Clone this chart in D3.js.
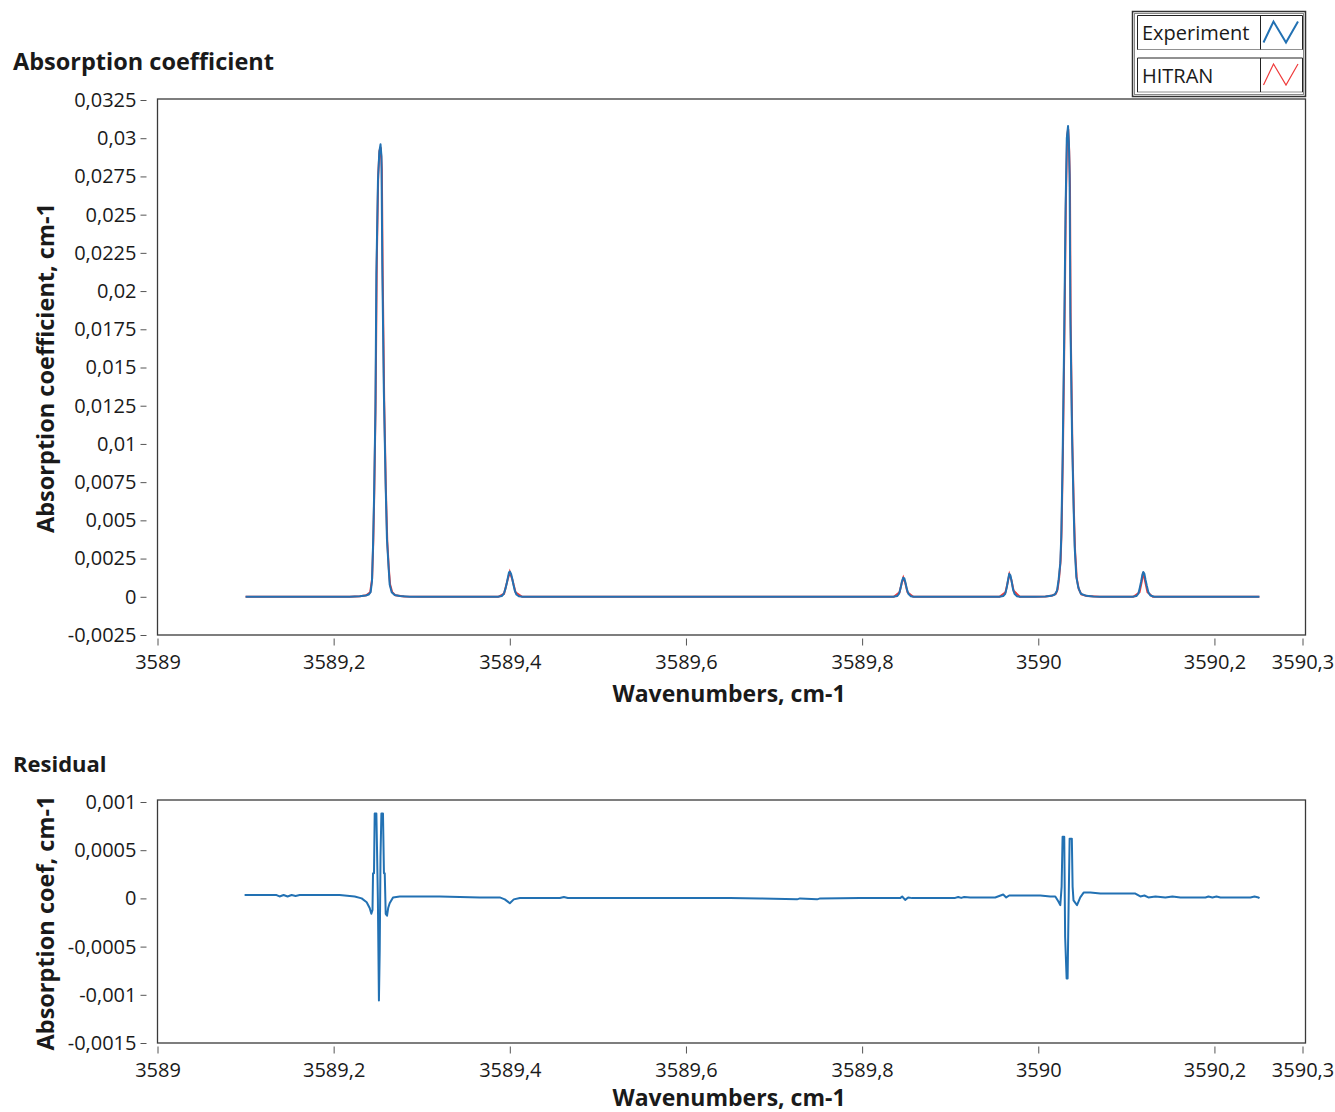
<!DOCTYPE html>
<html>
<head>
<meta charset="utf-8">
<script src="https://cdn.jsdelivr.net/npm/d3@7"></script>
<style>
  html, body { margin: 0; padding: 0; background: #fff; }
  svg { display: block; }
  text { font-family: "Open Sans", "Noto Sans", sans-serif; fill: #1a1a1a; }
</style>
</head>
<body>
<svg id="chart" width="1335" height="1112"></svg>
<script>
// ---------------- DATA ----------------
const xTickValues = [3589, 3589.2, 3589.4, 3589.6, 3589.8, 3590, 3590.2, 3590.3];
const xTickLabels = ["3589", "3589,2", "3589,4", "3589,6", "3589,8", "3590", "3590,2", "3590,3"];

const absTickValues = [0.0325, 0.03, 0.0275, 0.025, 0.0225, 0.02, 0.0175, 0.015, 0.0125, 0.01, 0.0075, 0.005, 0.0025, 0, -0.0025];
const absTickLabels = ["0,0325", "0,03", "0,0275", "0,025", "0,0225", "0,02", "0,0175", "0,015", "0,0125", "0,01", "0,0075", "0,005", "0,0025", "0", "-0,0025"];

const resTickValues = [0.001, 0.0005, 0, -0.0005, -0.001, -0.0015];
const resTickLabels = ["0,001", "0,0005", "0", "-0,0005", "-0,001", "-0,0015"];

const seriesNames = ["Experiment", "HITRAN"];

// Experiment spectrum (wavenumber, absorption coefficient)
const expWavenumbers = [
  3589.1000, 3589.2182, 3589.2295, 3589.2364, 3589.2398, 3589.2420, 3589.2435, 3589.2447, 3589.2458,
  3589.2474, 3589.2485, 3589.2503, 3589.2518, 3589.2532, 3589.2543, 3589.2552, 3589.2570, 3589.2590,
  3589.2605, 3589.2623, 3589.2636, 3589.2659, 3589.2693, 3589.2750, 3589.2864, 3589.2977,
  3589.3864, 3589.3909, 3589.3932, 3589.3949, 3589.3966, 3589.3980, 3589.3991, 3589.4002, 3589.4014,
  3589.4027, 3589.4041, 3589.4057, 3589.4075, 3589.4102, 3589.4148,
  3589.8352, 3589.8398, 3589.8420, 3589.8438, 3589.8452, 3589.8466, 3589.8480, 3589.8493, 3589.8508,
  3589.8525, 3589.8551, 3589.8591,
  3589.9557, 3589.9602, 3589.9625, 3589.9642, 3589.9657, 3589.9670, 3589.9684, 3589.9698, 3589.9713,
  3589.9730, 3589.9756, 3589.9795,
  3589.9966, 3590.0080, 3590.0148, 3590.0188, 3590.0213, 3590.0231, 3590.0250, 3590.0261, 3590.0276,
  3590.0293, 3590.0310, 3590.0324, 3590.0338, 3590.0348, 3590.0356, 3590.0364, 3590.0383, 3590.0401,
  3590.0413, 3590.0432, 3590.0455, 3590.0483, 3590.0545, 3590.0625, 3590.0705,
  3590.1068, 3590.1114, 3590.1136, 3590.1153, 3590.1168, 3590.1181, 3590.1192, 3590.1205, 3590.1218,
  3590.1233, 3590.1250, 3590.1273, 3590.1318,
  3590.2511
];
const expValues = [
  0, 0, 0.00003, 0.00008, 0.00015, 0.0003, 0.0010, 0.0033, 0.0063,
  0.0121, 0.0211, 0.0272, 0.0291, 0.0296, 0.0288, 0.0218, 0.0134, 0.0074,
  0.0038, 0.0020, 0.0008, 0.0003, 0.00012, 0.00005, 0.00001, 0,
  0, 0.00005, 0.0002, 0.0005, 0.0009, 0.0013, 0.0016, 0.00164, 0.0015,
  0.0012, 0.0008, 0.0004, 0.00015, 0.00003, 0,
  0, 0.00005, 0.0002, 0.0006, 0.0010, 0.00124, 0.0012, 0.0009, 0.0005,
  0.0002, 0.00004, 0,
  0, 0.00005, 0.0002, 0.0006, 0.0011, 0.0015, 0.0014, 0.0010, 0.0005,
  0.0002, 0.00004, 0,
  0, 0.00002, 0.00006, 0.00015, 0.0004, 0.0011, 0.0022, 0.0039, 0.0088,
  0.0164, 0.0254, 0.0300, 0.0308, 0.0296, 0.0276, 0.0186, 0.0107, 0.0059,
  0.0033, 0.0013, 0.0006, 0.0002, 0.00006, 0.00002, 0,
  0, 0.00005, 0.0002, 0.0006, 0.0010, 0.0014, 0.00162, 0.0015, 0.0011,
  0.0007, 0.0003, 0.00008, 0,
  0
];

// HITRAN model spectrum
const hitranWavenumbers = [
  3589.1000, 3589.2182, 3589.2300, 3589.2370, 3589.2415, 3589.2437, 3589.2450, 3589.2462, 3589.2477,
  3589.2490, 3589.2506, 3589.2521, 3589.2534, 3589.2547, 3589.2557, 3589.2574, 3589.2593, 3589.2609,
  3589.2627, 3589.2641, 3589.2665, 3589.2700, 3589.2800, 3589.3000,
  3589.3870, 3589.3935, 3589.3970, 3589.4000, 3589.4030, 3589.4065, 3589.4140,
  3589.8360, 3589.8425, 3589.8450, 3589.8468, 3589.8490, 3589.8515, 3589.8580,
  3589.9560, 3589.9628, 3589.9655, 3589.9672, 3589.9695, 3589.9720, 3589.9790,
  3589.9970, 3590.0085, 3590.0160, 3590.0200, 3590.0220, 3590.0236, 3590.0254, 3590.0265, 3590.0280,
  3590.0297, 3590.0314, 3590.0328, 3590.0340, 3590.0351, 3590.0360, 3590.0368, 3590.0387, 3590.0405,
  3590.0418, 3590.0437, 3590.0460, 3590.0490, 3590.0550, 3590.0700,
  3590.1080, 3590.1150, 3590.1175, 3590.1190, 3590.1210, 3590.1240, 3590.1300,
  3590.2510
];
const hitranValues = [
  0, 0, 0.00003, 0.0001, 0.0003, 0.0012, 0.0036, 0.0070, 0.0130,
  0.0220, 0.0276, 0.0292, 0.0294, 0.0280, 0.0210, 0.0128, 0.0070, 0.0036,
  0.0018, 0.0008, 0.0003, 0.0001, 0.00002, 0,
  0, 0.0002, 0.0010, 0.00162, 0.0011, 0.0003, 0,
  0, 0.0003, 0.0009, 0.00125, 0.0009, 0.0003, 0,
  0, 0.0003, 0.0010, 0.00148, 0.0011, 0.0004, 0,
  0, 0.00002, 0.00008, 0.0002, 0.0005, 0.0012, 0.0024, 0.0044, 0.0095,
  0.0172, 0.0260, 0.0302, 0.0306, 0.0292, 0.0268, 0.0178, 0.0100, 0.0055,
  0.0030, 0.0012, 0.0005, 0.00015, 0.00005, 0,
  0, 0.0003, 0.0010, 0.00160, 0.0011, 0.0003, 0,
  0
];

// Residual (Experiment - HITRAN)
const resWavenumbers = [
  3589.0989, 3589.1352, 3589.1386, 3589.1432, 3589.1477, 3589.1523, 3589.1568, 3589.1614, 3589.2068,
  3589.2125, 3589.2239, 3589.2318, 3589.2375, 3589.2409,
  3589.2428, 3589.2441, 3589.2447, 3589.2458, 3589.2466, 3589.2485, 3589.2492, 3589.2502, 3589.2514,
  3589.2523, 3589.2532, 3589.2542, 3589.2560, 3589.2571, 3589.2580, 3589.2591, 3589.2606, 3589.2619,
  3589.2636, 3589.2674, 3589.2750,
  3589.3205, 3589.3659, 3589.3886, 3589.3943, 3589.4000, 3589.4045, 3589.4114, 3589.4568, 3589.4614,
  3589.4659, 3589.5364, 3589.6500, 3589.6841, 3589.7261, 3589.7295, 3589.7489, 3589.7523, 3589.7977,
  3589.8432, 3589.8455, 3589.8489, 3589.8523, 3589.8568, 3589.9057, 3589.9091, 3589.9125, 3589.9159,
  3589.9227, 3589.9511, 3589.9602, 3589.9636, 3589.9670, 3589.9739, 3590.0023, 3590.0136,
  3590.0193, 3590.0227, 3590.0250, 3590.0265, 3590.0276, 3590.0295, 3590.0305, 3590.0322, 3590.0333,
  3590.0344, 3590.0356, 3590.0381, 3590.0390, 3590.0400, 3590.0440, 3590.0477, 3590.0515,
  3590.0591, 3590.0705, 3590.1102, 3590.1159, 3590.1205, 3590.1250, 3590.1330, 3590.1443, 3590.1523,
  3590.1614, 3590.1898, 3590.1932, 3590.1977, 3590.2023, 3590.2068, 3590.2409, 3590.2455, 3590.2500,
  3590.2511
];
const resValues = [
  0.000035, 0.000035, 0.00002, 0.000035, 0.00002, 0.000035, 0.000025, 0.000035, 0.000035,
  0.00003, 0.00002, 0, -0.00004, -0.0001,
  -0.00016, -0.00012, 0.00026, 0.00026, 0.00088, 0.00088, 0.00053, 0.0, -0.00106,
  -0.00054, 0.00043, 0.00088, 0.00088, 0.00026, 0.00026, -0.00016, -0.00018, -0.0001,
  -0.00005, 0.00001, 0.00002,
  0.00002, 0.00001, 0.00001, -0.00001, -0.00005, -0.00001, 0.000005, 0.000005, 0.000015,
  0.000005, 0.000005, 0.000003, 0.0, -0.00001, 0.0, -0.00001, 0.0, 0.000003,
  0.000003, 0.00002, -0.000015, 0.00001, 0.000003, 0.000005, 0.000015, 0.000005, 0.000015,
  0.00001, 0.00001, 0.00004, 0.00001, 0.00003, 0.00003, 0.00003, 0.00002,
  0.00002, -0.00003, -0.00007, 0.00012, 0.00064, 0.00064, -0.0004, -0.00083, -0.00083,
  -0.0001, 0.00062, 0.00062, 0.00012, -0.00002, -0.00007, 0.00001, 0.00006,
  0.00006, 0.00005, 0.00005, 0.00002, 0.00003, 0.00001, 0.00002, 0.00001, 0.00002,
  0.00001, 0.00001, 0.00002, 0.00001, 0.00002, 0.00001, 0.00001, 0.00002, 0.00001,
  0.0
];

// ---------------- DRAWING ----------------
const svg = d3.select("#chart");
const blue = "#2271b3";
const red = "#ef3b3b";
const frameColor = "#3a3a3a";
const tickColor = "#555";

const x = d3.scaleLinear().domain([3589, 3590.3]).range([157.5, 1302.5]);
const yAbs = d3.scaleLinear().domain([-0.0025, 0.0325]).range([635, 100]);
const yRes = d3.scaleLinear().domain([-0.0015, 0.001]).range([1043, 802]);

function zip(a, b) { return a.map((v, i) => [v, b[i]]); }

function drawPanel(opts) {
  const g = svg.append("g");
  // y axis
  const yAxis = d3.axisLeft(opts.y)
    .tickValues(opts.yTicks)
    .tickFormat((d, i) => opts.yLabels[i])
    .tickSize(6).tickPadding(4);
  const ga = g.append("g").attr("transform", "translate(146.5,0)").call(yAxis);
  ga.select(".domain").remove();
  ga.selectAll(".tick line").attr("stroke", tickColor);
  ga.selectAll(".tick text").attr("font-size", 20).attr("font-family", '"Open Sans", sans-serif').attr("fill", "#1a1a1a");

  // x axis
  const xAxis = d3.axisBottom(x)
    .tickValues(xTickValues)
    .tickFormat((d, i) => xTickLabels[i])
    .tickSize(7).tickPadding(9);
  const gx = g.append("g").attr("transform", `translate(0,${opts.xAxisY})`).call(xAxis);
  gx.select(".domain").remove();
  gx.selectAll(".tick line").attr("stroke", tickColor);
  gx.selectAll(".tick text").attr("font-size", 20).attr("font-family", '"Open Sans", sans-serif').attr("fill", "#1a1a1a");

  // frame
  g.append("rect")
    .attr("x", 157.5).attr("y", opts.frameTop)
    .attr("width", 1305.5 - 157.5).attr("height", opts.frameBottom - opts.frameTop)
    .attr("fill", "none").attr("stroke", frameColor).attr("stroke-width", 1.3);

  // titles
  g.append("text").attr("x", 13).attr("y", opts.titleY)
    .attr("font-size", opts.titleSize).attr("font-weight", "bold").text(opts.title);
  g.append("text")
    .attr("transform", `translate(54,${opts.yTitleCenter}) rotate(-90)`)
    .attr("text-anchor", "middle").attr("font-size", 23.5).attr("font-weight", "bold")
    .text(opts.yTitle);
  g.append("text").attr("x", 729).attr("y", opts.xTitleY)
    .attr("text-anchor", "middle").attr("font-size", 23).attr("font-weight", "bold")
    .text("Wavenumbers, cm-1");
  return g;
}

drawPanel({
  y: yAbs, yTicks: absTickValues, yLabels: absTickLabels,
  xAxisY: 638.5, frameTop: 99, frameBottom: 635,
  title: "Absorption coefficient", titleSize: 23.5, titleY: 70,
  yTitle: "Absorption coefficient, cm-1", yTitleCenter: 368,
  xTitleY: 702
});

drawPanel({
  y: yRes, yTicks: resTickValues, yLabels: resTickLabels,
  xAxisY: 1046.5, frameTop: 800, frameBottom: 1043,
  title: "Residual", titleSize: 22, titleY: 772,
  yTitle: "Absorption coef, cm-1", yTitleCenter: 923,
  xTitleY: 1106
});

const lineAbs = d3.line().x(d => x(d[0])).y(d => yAbs(d[1]));
const lineRes = d3.line().x(d => x(d[0])).y(d => yRes(d[1]));

svg.append("path").datum(zip(hitranWavenumbers, hitranValues))
  .attr("d", lineAbs).attr("fill", "none").attr("stroke", red).attr("stroke-width", 2);
svg.append("path").datum(zip(expWavenumbers, expValues))
  .attr("d", lineAbs).attr("fill", "none").attr("stroke", blue).attr("stroke-width", 2)
  .attr("stroke-linejoin", "round");
svg.append("path").datum(zip(resWavenumbers, resValues))
  .attr("d", lineRes).attr("fill", "none").attr("stroke", blue).attr("stroke-width", 2)
  .attr("stroke-linejoin", "round");

// ---------------- LEGEND ----------------
const lg = svg.append("g");
lg.append("rect").attr("x", 1132.5).attr("y", 11.5).attr("width", 173).attr("height", 85)
  .attr("fill", "#fff").attr("stroke", "#333").attr("stroke-width", 1.5);
lg.append("rect").attr("x", 1134.5).attr("y", 13.5).attr("width", 169).attr("height", 81)
  .attr("fill", "none").attr("stroke", "#888").attr("stroke-width", 1);
const legendColors = [blue, red];
seriesNames.forEach((name, i) => {
  const top = 15.5 + i * 42.5;
  const h = 34;
  const e = lg.append("g");
  e.append("path").attr("d", `M1137.5,${top + h} V${top} H1302.5 V${top + h}`)
    .attr("fill", "none").attr("stroke", "#222").attr("stroke-width", 1);
  e.append("line").attr("x1", 1137.5).attr("x2", 1302.5).attr("y1", top + h).attr("y2", top + h)
    .attr("stroke", "#222").attr("stroke-width", 1).attr("stroke-dasharray", "1,1");
  e.append("line").attr("x1", 1260.5).attr("x2", 1260.5).attr("y1", top).attr("y2", top + h)
    .attr("stroke", "#222").attr("stroke-width", 1);
  e.append("text").attr("x", 1142).attr("y", top + 24.5).attr("font-size", 20).text(name);
  e.append("path")
    .attr("d", `M1263.5,${top + 27} L1273.5,${top + 6} L1286,${top + 27} L1298,${top + 6}`)
    .attr("fill", "none").attr("stroke", legendColors[i]).attr("stroke-width", i === 0 ? 2 : 1.2);
});
</script>
</body>
</html>
